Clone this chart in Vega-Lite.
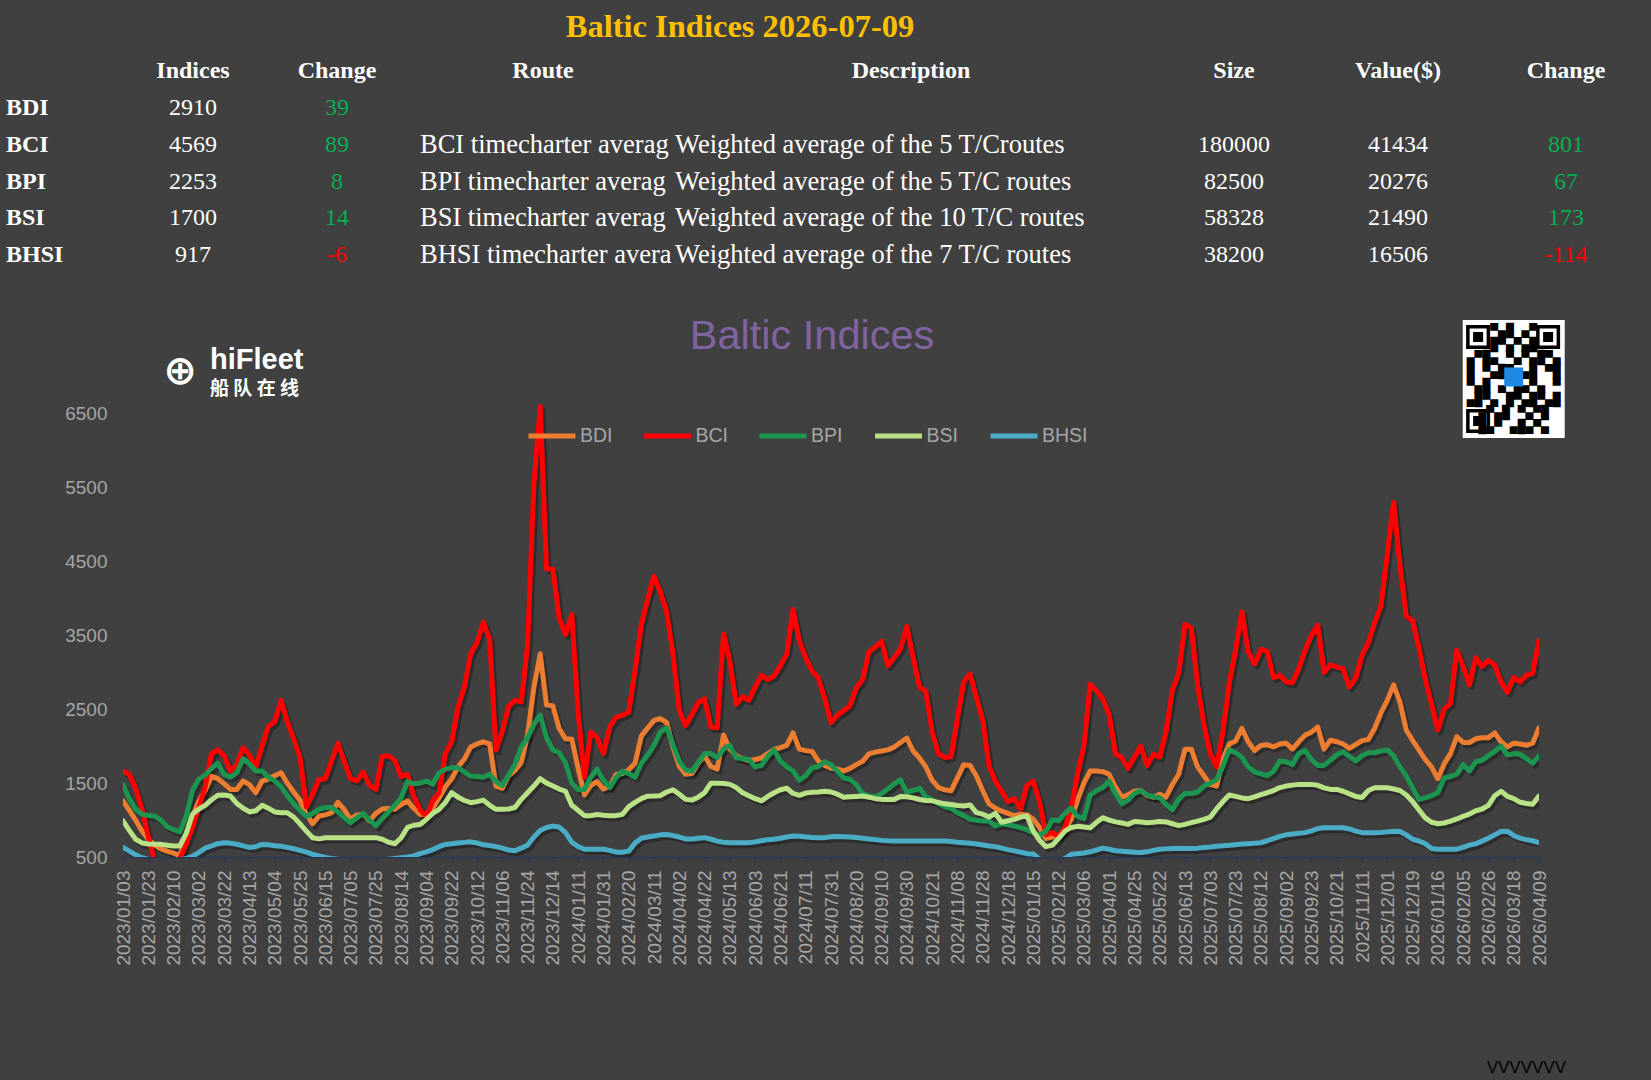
{
  "$schema": "https://vega.github.io/schema/vega-lite/v6.json",
  "description": "Baltic Indices table and line chart",
  "background": "#404040",
  "padding": {"top": 11, "left": 0, "right": 0, "bottom": 10},
  "bounds": "full",
  "spacing": 42,
  "config": {
    "view": {"stroke": null},
    "font": "Liberation Sans",
    "text": {"font": "Liberation Serif", "fontSize": 24, "color": "#ffffff", "baseline": "middle"}
  },
  "datasets": {
    "idx": [
      {"index": "BDI", "indices": 2910, "change": 39},
      {"index": "BCI", "indices": 4569, "change": 89},
      {"index": "BPI", "indices": 2253, "change": 8},
      {"index": "BSI", "indices": 1700, "change": 14},
      {"index": "BHSI", "indices": 917, "change": -6}
    ],
    "routes": [
      {"index": "BCI", "route": "BCI timecharter average", "description": "Weighted average of the 5 T/Croutes", "size": 180000, "value": 41434, "change": 801},
      {"index": "BPI", "route": "BPI timecharter average", "description": "Weighted average of the 5 T/C routes", "size": 82500, "value": 20276, "change": 67},
      {"index": "BSI", "route": "BSI timecharter average", "description": "Weighted average of the 10 T/C routes", "size": 58328, "value": 21490, "change": 173},
      {"index": "BHSI", "route": "BHSI timecharter average", "description": "Weighted average of the 7 T/C routes", "size": 38200, "value": 16506, "change": -114}
    ],
    "indices": [
      {"d":"2023/01/03","BDI":1260,"BCI":1660,"BPI":1480,"BSI":990,"BHSI":630},
      {"d":"2023/01/08","BDI":1130,"BCI":1620,"BPI":1290,"BSI":860,"BHSI":580},
      {"d":"2023/01/13","BDI":1000,"BCI":1430,"BPI":1150,"BSI":740,"BHSI":530},
      {"d":"2023/01/18","BDI":852,"BCI":1150,"BPI":1077,"BSI":690,"BHSI":490},
      {"d":"2023/01/23","BDI":740,"BCI":780,"BPI":1063,"BSI":675,"BHSI":470},
      {"d":"2023/01/27","BDI":660,"BCI":450,"BPI":1055,"BSI":671,"BHSI":450},
      {"d":"2023/02/01","BDI":610,"BCI":380,"BPI":1000,"BSI":671,"BHSI":440},
      {"d":"2023/02/05","BDI":580,"BCI":350,"BPI":910,"BSI":660,"BHSI":440},
      {"d":"2023/02/10","BDI":553,"BCI":380,"BPI":870,"BSI":649,"BHSI":445},
      {"d":"2023/02/15","BDI":515,"BCI":480,"BPI":840,"BSI":650,"BHSI":460},
      {"d":"2023/02/20","BDI":780,"BCI":670,"BPI":1050,"BSI":820,"BHSI":480},
      {"d":"2023/02/25","BDI":1050,"BCI":900,"BPI":1400,"BSI":1080,"BHSI":510},
      {"d":"2023/03/02","BDI":1258,"BCI":1167,"BPI":1555,"BSI":1150,"BHSI":560},
      {"d":"2023/03/07","BDI":1400,"BCI":1450,"BPI":1610,"BSI":1200,"BHSI":620},
      {"d":"2023/03/12","BDI":1590,"BCI":1900,"BPI":1700,"BSI":1275,"BHSI":650},
      {"d":"2023/03/17","BDI":1560,"BCI":1950,"BPI":1770,"BSI":1335,"BHSI":680},
      {"d":"2023/03/22","BDI":1490,"BCI":1870,"BPI":1615,"BSI":1340,"BHSI":694},
      {"d":"2023/03/27","BDI":1415,"BCI":1664,"BPI":1580,"BSI":1325,"BHSI":685},
      {"d":"2023/04/02","BDI":1415,"BCI":1750,"BPI":1640,"BSI":1225,"BHSI":672},
      {"d":"2023/04/07","BDI":1530,"BCI":1980,"BPI":1830,"BSI":1160,"BHSI":650},
      {"d":"2023/04/13","BDI":1480,"BCI":1880,"BPI":1760,"BSI":1110,"BHSI":630},
      {"d":"2023/04/18","BDI":1370,"BCI":1720,"BPI":1664,"BSI":1125,"BHSI":640},
      {"d":"2023/04/23","BDI":1528,"BCI":2000,"BPI":1664,"BSI":1200,"BHSI":670},
      {"d":"2023/04/28","BDI":1555,"BCI":2270,"BPI":1580,"BSI":1160,"BHSI":665},
      {"d":"2023/05/04","BDI":1600,"BCI":2330,"BPI":1530,"BSI":1110,"BHSI":652},
      {"d":"2023/05/09","BDI":1640,"BCI":2620,"BPI":1450,"BSI":1100,"BHSI":645},
      {"d":"2023/05/14","BDI":1500,"BCI":2330,"BPI":1330,"BSI":1100,"BHSI":630},
      {"d":"2023/05/19","BDI":1380,"BCI":2100,"BPI":1220,"BSI":1040,"BHSI":612},
      {"d":"2023/05/25","BDI":1270,"BCI":1850,"BPI":1130,"BSI":950,"BHSI":590},
      {"d":"2023/05/30","BDI":1080,"BCI":1180,"BPI":1050,"BSI":850,"BHSI":565},
      {"d":"2023/06/04","BDI":950,"BCI":1350,"BPI":1090,"BSI":760,"BHSI":535},
      {"d":"2023/06/09","BDI":1055,"BCI":1550,"BPI":1145,"BSI":745,"BHSI":515},
      {"d":"2023/06/15","BDI":1070,"BCI":1560,"BPI":1170,"BSI":760,"BHSI":495},
      {"d":"2023/06/20","BDI":1100,"BCI":1800,"BPI":1170,"BSI":762,"BHSI":480},
      {"d":"2023/06/25","BDI":1240,"BCI":2040,"BPI":1110,"BSI":762,"BHSI":470},
      {"d":"2023/06/30","BDI":1140,"BCI":1790,"BPI":1030,"BSI":762,"BHSI":460},
      {"d":"2023/07/05","BDI":1010,"BCI":1560,"BPI":965,"BSI":762,"BHSI":455},
      {"d":"2023/07/10","BDI":1070,"BCI":1530,"BPI":1030,"BSI":762,"BHSI":450},
      {"d":"2023/07/15","BDI":1080,"BCI":1650,"BPI":1090,"BSI":762,"BHSI":450},
      {"d":"2023/07/20","BDI":990,"BCI":1470,"BPI":1000,"BSI":762,"BHSI":450},
      {"d":"2023/07/25","BDI":1090,"BCI":1415,"BPI":920,"BSI":762,"BHSI":455},
      {"d":"2023/07/30","BDI":1150,"BCI":1860,"BPI":1020,"BSI":740,"BHSI":460},
      {"d":"2023/08/04","BDI":1158,"BCI":1870,"BPI":1110,"BSI":700,"BHSI":470},
      {"d":"2023/08/09","BDI":1147,"BCI":1805,"BPI":1200,"BSI":680,"BHSI":480},
      {"d":"2023/08/14","BDI":1210,"BCI":1590,"BPI":1300,"BSI":760,"BHSI":490},
      {"d":"2023/08/19","BDI":1258,"BCI":1620,"BPI":1520,"BSI":900,"BHSI":500},
      {"d":"2023/08/24","BDI":1160,"BCI":1320,"BPI":1490,"BSI":930,"BHSI":515},
      {"d":"2023/08/29","BDI":1077,"BCI":1140,"BPI":1500,"BSI":940,"BHSI":545},
      {"d":"2023/09/04","BDI":1077,"BCI":1040,"BPI":1528,"BSI":1010,"BHSI":570},
      {"d":"2023/09/08","BDI":1160,"BCI":1260,"BPI":1485,"BSI":1090,"BHSI":600},
      {"d":"2023/09/13","BDI":1300,"BCI":1370,"BPI":1640,"BSI":1145,"BHSI":640},
      {"d":"2023/09/17","BDI":1450,"BCI":1900,"BPI":1690,"BSI":1240,"BHSI":670},
      {"d":"2023/09/22","BDI":1560,"BCI":2060,"BPI":1709,"BSI":1370,"BHSI":680},
      {"d":"2023/09/27","BDI":1720,"BCI":2530,"BPI":1709,"BSI":1310,"BHSI":690},
      {"d":"2023/10/02","BDI":1826,"BCI":2800,"BPI":1650,"BSI":1265,"BHSI":698},
      {"d":"2023/10/07","BDI":1990,"BCI":3250,"BPI":1596,"BSI":1235,"BHSI":705},
      {"d":"2023/10/12","BDI":2030,"BCI":3400,"BPI":1590,"BSI":1250,"BHSI":690},
      {"d":"2023/10/18","BDI":2060,"BCI":3680,"BPI":1580,"BSI":1270,"BHSI":665},
      {"d":"2023/10/24","BDI":2030,"BCI":3450,"BPI":1620,"BSI":1200,"BHSI":655},
      {"d":"2023/10/30","BDI":1460,"BCI":1950,"BPI":1520,"BSI":1145,"BHSI":640},
      {"d":"2023/11/06","BDI":1430,"BCI":2200,"BPI":1465,"BSI":1145,"BHSI":620},
      {"d":"2023/11/10","BDI":1600,"BCI":2540,"BPI":1610,"BSI":1150,"BHSI":595},
      {"d":"2023/11/15","BDI":1670,"BCI":2620,"BPI":1750,"BSI":1170,"BHSI":585},
      {"d":"2023/11/19","BDI":1780,"BCI":2600,"BPI":1990,"BSI":1280,"BHSI":620},
      {"d":"2023/11/24","BDI":2150,"BCI":3360,"BPI":2110,"BSI":1370,"BHSI":660},
      {"d":"2023/11/29","BDI":2800,"BCI":5550,"BPI":2300,"BSI":1460,"BHSI":770},
      {"d":"2023/12/04","BDI":3250,"BCI":6600,"BPI":2420,"BSI":1560,"BHSI":860},
      {"d":"2023/12/09","BDI":2560,"BCI":4400,"BPI":2120,"BSI":1500,"BHSI":900},
      {"d":"2023/12/14","BDI":2545,"BCI":4400,"BPI":1950,"BSI":1460,"BHSI":918},
      {"d":"2023/12/21","BDI":2240,"BCI":3740,"BPI":1911,"BSI":1420,"BHSI":905},
      {"d":"2023/12/28","BDI":2100,"BCI":3510,"BPI":1780,"BSI":1390,"BHSI":830},
      {"d":"2024/01/04","BDI":2093,"BCI":3783,"BPI":1500,"BSI":1200,"BHSI":700},
      {"d":"2024/01/11","BDI":1700,"BCI":2450,"BPI":1410,"BSI":1130,"BHSI":640},
      {"d":"2024/01/16","BDI":1340,"BCI":1580,"BPI":1415,"BSI":1060,"BHSI":604},
      {"d":"2024/01/21","BDI":1470,"BCI":2190,"BPI":1580,"BSI":1060,"BHSI":604},
      {"d":"2024/01/26","BDI":1520,"BCI":2115,"BPI":1690,"BSI":1075,"BHSI":604},
      {"d":"2024/01/31","BDI":1420,"BCI":1900,"BPI":1540,"BSI":1065,"BHSI":604},
      {"d":"2024/02/05","BDI":1460,"BCI":2260,"BPI":1440,"BSI":1058,"BHSI":590},
      {"d":"2024/02/10","BDI":1618,"BCI":2390,"BPI":1574,"BSI":1060,"BHSI":565},
      {"d":"2024/02/15","BDI":1630,"BCI":2420,"BPI":1660,"BSI":1077,"BHSI":565},
      {"d":"2024/02/20","BDI":1680,"BCI":2460,"BPI":1630,"BSI":1180,"BHSI":580},
      {"d":"2024/02/25","BDI":1770,"BCI":3030,"BPI":1580,"BSI":1240,"BHSI":690},
      {"d":"2024/03/01","BDI":2140,"BCI":3650,"BPI":1770,"BSI":1290,"BHSI":755},
      {"d":"2024/03/06","BDI":2245,"BCI":3990,"BPI":1880,"BSI":1323,"BHSI":770},
      {"d":"2024/03/11","BDI":2350,"BCI":4300,"BPI":2010,"BSI":1325,"BHSI":785},
      {"d":"2024/03/16","BDI":2375,"BCI":4090,"BPI":2190,"BSI":1330,"BHSI":800},
      {"d":"2024/03/22","BDI":2320,"BCI":3820,"BPI":2250,"BSI":1380,"BHSI":805},
      {"d":"2024/03/27","BDI":1990,"BCI":3250,"BPI":2024,"BSI":1410,"BHSI":790},
      {"d":"2024/04/02","BDI":1730,"BCI":2480,"BPI":1800,"BSI":1350,"BHSI":770},
      {"d":"2024/04/07","BDI":1620,"BCI":2280,"BPI":1680,"BSI":1280,"BHSI":745},
      {"d":"2024/04/12","BDI":1630,"BCI":2430,"BPI":1660,"BSI":1270,"BHSI":745},
      {"d":"2024/04/17","BDI":1770,"BCI":2590,"BPI":1780,"BSI":1310,"BHSI":755},
      {"d":"2024/04/22","BDI":1870,"BCI":2640,"BPI":1900,"BSI":1370,"BHSI":762},
      {"d":"2024/04/27","BDI":1725,"BCI":2260,"BPI":1900,"BSI":1500,"BHSI":740},
      {"d":"2024/05/02","BDI":1690,"BCI":2250,"BPI":1844,"BSI":1500,"BHSI":715},
      {"d":"2024/05/07","BDI":2150,"BCI":3520,"BPI":1960,"BSI":1495,"BHSI":700},
      {"d":"2024/05/13","BDI":1960,"BCI":3150,"BPI":2010,"BSI":1483,"BHSI":694},
      {"d":"2024/05/18","BDI":1870,"BCI":2565,"BPI":1844,"BSI":1440,"BHSI":694},
      {"d":"2024/05/23","BDI":1830,"BCI":2670,"BPI":1830,"BSI":1370,"BHSI":694},
      {"d":"2024/05/28","BDI":1805,"BCI":2620,"BPI":1821,"BSI":1330,"BHSI":694},
      {"d":"2024/06/03","BDI":1820,"BCI":2800,"BPI":1720,"BSI":1290,"BHSI":705},
      {"d":"2024/06/07","BDI":1840,"BCI":2960,"BPI":1740,"BSI":1260,"BHSI":720},
      {"d":"2024/06/12","BDI":1900,"BCI":2900,"BPI":1860,"BSI":1320,"BHSI":735},
      {"d":"2024/06/16","BDI":1955,"BCI":2950,"BPI":1950,"BSI":1370,"BHSI":740},
      {"d":"2024/06/21","BDI":1980,"BCI":3090,"BPI":1800,"BSI":1410,"BHSI":755},
      {"d":"2024/06/26","BDI":2010,"BCI":3250,"BPI":1720,"BSI":1430,"BHSI":770},
      {"d":"2024/07/01","BDI":2180,"BCI":3850,"BPI":1664,"BSI":1360,"BHSI":784},
      {"d":"2024/07/06","BDI":1960,"BCI":3420,"BPI":1540,"BSI":1335,"BHSI":780},
      {"d":"2024/07/11","BDI":1940,"BCI":3200,"BPI":1600,"BSI":1365,"BHSI":772},
      {"d":"2024/07/16","BDI":1930,"BCI":3020,"BPI":1709,"BSI":1375,"BHSI":765},
      {"d":"2024/07/21","BDI":1800,"BCI":2920,"BPI":1725,"BSI":1380,"BHSI":762},
      {"d":"2024/07/26","BDI":1740,"BCI":2650,"BPI":1790,"BSI":1390,"BHSI":762},
      {"d":"2024/07/31","BDI":1700,"BCI":2320,"BPI":1750,"BSI":1380,"BHSI":775},
      {"d":"2024/08/05","BDI":1690,"BCI":2420,"BPI":1660,"BSI":1350,"BHSI":778},
      {"d":"2024/08/10","BDI":1665,"BCI":2480,"BPI":1570,"BSI":1310,"BHSI":775},
      {"d":"2024/08/15","BDI":1700,"BCI":2550,"BPI":1550,"BSI":1315,"BHSI":770},
      {"d":"2024/08/20","BDI":1750,"BCI":2790,"BPI":1480,"BSI":1320,"BHSI":764},
      {"d":"2024/08/25","BDI":1795,"BCI":2900,"BPI":1360,"BSI":1325,"BHSI":755},
      {"d":"2024/08/30","BDI":1895,"BCI":3280,"BPI":1330,"BSI":1310,"BHSI":745},
      {"d":"2024/09/04","BDI":1920,"BCI":3340,"BPI":1310,"BSI":1290,"BHSI":735},
      {"d":"2024/09/10","BDI":1935,"BCI":3420,"BPI":1360,"BSI":1280,"BHSI":725},
      {"d":"2024/09/15","BDI":1950,"BCI":3090,"BPI":1420,"BSI":1280,"BHSI":720},
      {"d":"2024/09/20","BDI":1990,"BCI":3200,"BPI":1490,"BSI":1280,"BHSI":717},
      {"d":"2024/09/25","BDI":2050,"BCI":3320,"BPI":1545,"BSI":1320,"BHSI":717},
      {"d":"2024/09/30","BDI":2110,"BCI":3620,"BPI":1380,"BSI":1315,"BHSI":717},
      {"d":"2024/10/05","BDI":1935,"BCI":3200,"BPI":1400,"BSI":1300,"BHSI":717},
      {"d":"2024/10/10","BDI":1840,"BCI":2800,"BPI":1430,"BSI":1278,"BHSI":717},
      {"d":"2024/10/15","BDI":1720,"BCI":2740,"BPI":1320,"BSI":1265,"BHSI":717},
      {"d":"2024/10/21","BDI":1540,"BCI":2190,"BPI":1270,"BSI":1260,"BHSI":717},
      {"d":"2024/10/25","BDI":1440,"BCI":1900,"BPI":1220,"BSI":1240,"BHSI":717},
      {"d":"2024/10/30","BDI":1410,"BCI":1844,"BPI":1180,"BSI":1220,"BHSI":717},
      {"d":"2024/11/03","BDI":1395,"BCI":1860,"BPI":1160,"BSI":1210,"BHSI":710},
      {"d":"2024/11/08","BDI":1570,"BCI":2380,"BPI":1100,"BSI":1197,"BHSI":700},
      {"d":"2024/11/13","BDI":1750,"BCI":2870,"BPI":1060,"BSI":1190,"BHSI":692},
      {"d":"2024/11/18","BDI":1740,"BCI":2980,"BPI":1010,"BSI":1205,"BHSI":685},
      {"d":"2024/11/23","BDI":1600,"BCI":2660,"BPI":997,"BSI":1100,"BHSI":675},
      {"d":"2024/11/28","BDI":1400,"BCI":2360,"BPI":987,"BSI":1080,"BHSI":662},
      {"d":"2024/12/03","BDI":1220,"BCI":1730,"BPI":987,"BSI":1040,"BHSI":650},
      {"d":"2024/12/08","BDI":1160,"BCI":1528,"BPI":920,"BSI":1090,"BHSI":640},
      {"d":"2024/12/13","BDI":1120,"BCI":1390,"BPI":950,"BSI":970,"BHSI":620},
      {"d":"2024/12/18","BDI":1090,"BCI":1250,"BPI":935,"BSI":990,"BHSI":600},
      {"d":"2024/12/25","BDI":1058,"BCI":1290,"BPI":920,"BSI":1010,"BHSI":583},
      {"d":"2025/01/01","BDI":1080,"BCI":1150,"BPI":897,"BSI":1040,"BHSI":565},
      {"d":"2025/01/08","BDI":1070,"BCI":1470,"BPI":870,"BSI":1055,"BHSI":545},
      {"d":"2025/01/15","BDI":1010,"BCI":1528,"BPI":830,"BSI":852,"BHSI":540},
      {"d":"2025/01/22","BDI":900,"BCI":1250,"BPI":790,"BSI":725,"BHSI":470},
      {"d":"2025/01/29","BDI":750,"BCI":800,"BPI":850,"BSI":640,"BHSI":430},
      {"d":"2025/02/05","BDI":770,"BCI":830,"BPI":1000,"BSI":660,"BHSI":420},
      {"d":"2025/02/12","BDI":790,"BCI":775,"BPI":990,"BSI":750,"BHSI":440},
      {"d":"2025/02/17","BDI":870,"BCI":895,"BPI":1090,"BSI":850,"BHSI":480},
      {"d":"2025/02/23","BDI":1010,"BCI":1160,"BPI":1160,"BSI":900,"BHSI":536},
      {"d":"2025/02/28","BDI":1270,"BCI":1620,"BPI":1050,"BSI":915,"BHSI":545},
      {"d":"2025/03/06","BDI":1500,"BCI":2000,"BPI":1020,"BSI":905,"BHSI":555},
      {"d":"2025/03/12","BDI":1664,"BCI":2836,"BPI":1340,"BSI":895,"BHSI":570},
      {"d":"2025/03/19","BDI":1664,"BCI":2750,"BPI":1400,"BSI":970,"BHSI":595},
      {"d":"2025/03/25","BDI":1655,"BCI":2640,"BPI":1440,"BSI":1032,"BHSI":620},
      {"d":"2025/04/01","BDI":1620,"BCI":2430,"BPI":1528,"BSI":1000,"BHSI":605},
      {"d":"2025/04/07","BDI":1450,"BCI":1900,"BPI":1360,"BSI":975,"BHSI":585},
      {"d":"2025/04/13","BDI":1310,"BCI":1844,"BPI":1220,"BSI":960,"BHSI":578},
      {"d":"2025/04/19","BDI":1340,"BCI":1700,"BPI":1270,"BSI":942,"BHSI":570},
      {"d":"2025/04/25","BDI":1390,"BCI":1850,"BPI":1360,"BSI":980,"BHSI":563},
      {"d":"2025/05/01","BDI":1400,"BCI":2000,"BPI":1400,"BSI":975,"BHSI":560},
      {"d":"2025/05/08","BDI":1330,"BCI":1740,"BPI":1340,"BSI":965,"BHSI":570},
      {"d":"2025/05/15","BDI":1310,"BCI":1889,"BPI":1315,"BSI":970,"BHSI":590},
      {"d":"2025/05/22","BDI":1348,"BCI":1850,"BPI":1303,"BSI":980,"BHSI":604},
      {"d":"2025/05/27","BDI":1310,"BCI":2200,"BPI":1210,"BSI":975,"BHSI":610},
      {"d":"2025/06/02","BDI":1480,"BCI":2760,"BPI":1140,"BSI":950,"BHSI":615},
      {"d":"2025/06/07","BDI":1620,"BCI":2990,"BPI":1280,"BSI":925,"BHSI":620},
      {"d":"2025/06/13","BDI":1960,"BCI":3650,"BPI":1360,"BSI":942,"BHSI":615},
      {"d":"2025/06/18","BDI":1960,"BCI":3600,"BPI":1360,"BSI":965,"BHSI":615},
      {"d":"2025/06/23","BDI":1720,"BCI":2830,"BPI":1380,"BSI":985,"BHSI":620},
      {"d":"2025/06/28","BDI":1600,"BCI":2290,"BPI":1460,"BSI":1010,"BHSI":628},
      {"d":"2025/07/03","BDI":1480,"BCI":1900,"BPI":1500,"BSI":1040,"BHSI":635},
      {"d":"2025/07/08","BDI":1460,"BCI":1720,"BPI":1545,"BSI":1150,"BHSI":645},
      {"d":"2025/07/13","BDI":1830,"BCI":2200,"BPI":1730,"BSI":1250,"BHSI":652},
      {"d":"2025/07/18","BDI":2030,"BCI":2850,"BPI":1950,"BSI":1340,"BHSI":658},
      {"d":"2025/07/23","BDI":2070,"BCI":3300,"BPI":1911,"BSI":1320,"BHSI":667},
      {"d":"2025/07/28","BDI":2240,"BCI":3820,"BPI":1850,"BSI":1300,"BHSI":675},
      {"d":"2025/08/02","BDI":2060,"BCI":3280,"BPI":1720,"BSI":1290,"BHSI":680},
      {"d":"2025/08/07","BDI":1940,"BCI":3110,"BPI":1650,"BSI":1315,"BHSI":686},
      {"d":"2025/08/12","BDI":2010,"BCI":3310,"BPI":1625,"BSI":1345,"BHSI":693},
      {"d":"2025/08/17","BDI":2020,"BCI":3287,"BPI":1600,"BSI":1370,"BHSI":720},
      {"d":"2025/08/22","BDI":1990,"BCI":2930,"BPI":1660,"BSI":1400,"BHSI":750},
      {"d":"2025/08/27","BDI":2030,"BCI":2960,"BPI":1800,"BSI":1440,"BHSI":780},
      {"d":"2025/09/02","BDI":2040,"BCI":2870,"BPI":1790,"BSI":1460,"BHSI":800},
      {"d":"2025/09/07","BDI":1960,"BCI":2860,"BPI":1750,"BSI":1473,"BHSI":812},
      {"d":"2025/09/12","BDI":2060,"BCI":3050,"BPI":1900,"BSI":1483,"BHSI":820},
      {"d":"2025/09/17","BDI":2150,"BCI":3300,"BPI":1940,"BSI":1483,"BHSI":830},
      {"d":"2025/09/23","BDI":2190,"BCI":3500,"BPI":1820,"BSI":1483,"BHSI":855},
      {"d":"2025/09/30","BDI":2260,"BCI":3640,"BPI":1740,"BSI":1470,"BHSI":885},
      {"d":"2025/10/07","BDI":1960,"BCI":3000,"BPI":1740,"BSI":1435,"BHSI":895},
      {"d":"2025/10/14","BDI":2080,"BCI":3100,"BPI":1810,"BSI":1415,"BHSI":897},
      {"d":"2025/10/21","BDI":2060,"BCI":3070,"BPI":1880,"BSI":1415,"BHSI":897},
      {"d":"2025/10/26","BDI":2030,"BCI":3050,"BPI":1925,"BSI":1390,"BHSI":897},
      {"d":"2025/10/31","BDI":1970,"BCI":2800,"BPI":1860,"BSI":1355,"BHSI":880},
      {"d":"2025/11/05","BDI":2020,"BCI":2920,"BPI":1800,"BSI":1320,"BHSI":850},
      {"d":"2025/11/11","BDI":2075,"BCI":3230,"BPI":1870,"BSI":1305,"BHSI":829},
      {"d":"2025/11/16","BDI":2090,"BCI":3400,"BPI":1911,"BSI":1400,"BHSI":829},
      {"d":"2025/11/21","BDI":2240,"BCI":3670,"BPI":1911,"BSI":1438,"BHSI":829},
      {"d":"2025/11/26","BDI":2450,"BCI":3900,"BPI":1935,"BSI":1438,"BHSI":832},
      {"d":"2025/12/01","BDI":2620,"BCI":4600,"BPI":1950,"BSI":1438,"BHSI":840},
      {"d":"2025/12/05","BDI":2830,"BCI":5300,"BPI":1870,"BSI":1420,"BHSI":848},
      {"d":"2025/12/10","BDI":2600,"BCI":4450,"BPI":1720,"BSI":1400,"BHSI":845},
      {"d":"2025/12/14","BDI":2220,"BCI":3760,"BPI":1600,"BSI":1340,"BHSI":800},
      {"d":"2025/12/19","BDI":2080,"BCI":3700,"BPI":1440,"BSI":1250,"BHSI":740},
      {"d":"2025/12/26","BDI":1950,"BCI":3340,"BPI":1280,"BSI":1140,"BHSI":717},
      {"d":"2026/01/02","BDI":1820,"BCI":2910,"BPI":1300,"BSI":1030,"BHSI":680},
      {"d":"2026/01/09","BDI":1720,"BCI":2570,"BPI":1330,"BSI":970,"BHSI":615},
      {"d":"2026/01/16","BDI":1560,"BCI":2220,"BPI":1370,"BSI":950,"BHSI":604},
      {"d":"2026/01/21","BDI":1760,"BCI":2500,"BPI":1570,"BSI":960,"BHSI":604},
      {"d":"2026/01/26","BDI":1900,"BCI":2580,"BPI":1590,"BSI":985,"BHSI":604},
      {"d":"2026/01/31","BDI":2130,"BCI":3300,"BPI":1620,"BSI":1015,"BHSI":606},
      {"d":"2026/02/05","BDI":2050,"BCI":3080,"BPI":1750,"BSI":1050,"BHSI":630},
      {"d":"2026/02/10","BDI":2050,"BCI":2830,"BPI":1664,"BSI":1080,"BHSI":660},
      {"d":"2026/02/15","BDI":2100,"BCI":3197,"BPI":1790,"BSI":1125,"BHSI":680},
      {"d":"2026/02/20","BDI":2115,"BCI":3080,"BPI":1810,"BSI":1150,"BHSI":715},
      {"d":"2026/02/26","BDI":2115,"BCI":3160,"BPI":1870,"BSI":1200,"BHSI":755},
      {"d":"2026/03/03","BDI":2180,"BCI":3100,"BPI":1930,"BSI":1330,"BHSI":800},
      {"d":"2026/03/08","BDI":2060,"BCI":2870,"BPI":2000,"BSI":1390,"BHSI":845},
      {"d":"2026/03/13","BDI":1990,"BCI":2730,"BPI":1880,"BSI":1320,"BHSI":850},
      {"d":"2026/03/18","BDI":2040,"BCI":2930,"BPI":1900,"BSI":1290,"BHSI":790},
      {"d":"2026/03/23","BDI":2030,"BCI":2870,"BPI":1890,"BSI":1240,"BHSI":755},
      {"d":"2026/03/29","BDI":2012,"BCI":2960,"BPI":1830,"BSI":1225,"BHSI":735},
      {"d":"2026/04/03","BDI":2040,"BCI":2990,"BPI":1770,"BSI":1215,"BHSI":720},
      {"d":"2026/04/09","BDI":2250,"BCI":3430,"BPI":1866,"BSI":1325,"BHSI":694}
    ]
  },
  "vconcat": [
    {
      "bounds": "flush",
      "spacing": 0,
      "hconcat": [
        {
          "width": 120, "height": 257.6,
          "data": {"name": "idx"},
          "mark": {"type": "text", "align": "left", "dx": -54, "fontWeight": "bold"},
          "encoding": {
            "y": {"field": "index", "type": "nominal", "scale": {"type": "point", "domain": ["title", "hdr", "BDI", "BCI", "BPI", "BSI", "BHSI"], "padding": 0.5}, "axis": null},
            "text": {"field": "index"}
          }
        },
        {
          "width": 146, "height": 257.6,
          "layer": [
            {
              "data": {"values": [{"label": "Indices"}]},
              "mark": {"type": "text", "fontWeight": "bold"},
              "encoding": {
                "y": {"datum": "hdr", "type": "nominal", "scale": {"type": "point", "domain": ["title", "hdr", "BDI", "BCI", "BPI", "BSI", "BHSI"], "padding": 0.5}, "axis": null},
                "text": {"field": "label"}
              }
            },
            {
              "data": {"name": "idx"},
              "mark": {"type": "text"},
              "encoding": {
                "y": {"field": "index", "type": "nominal"},
                "text": {"field": "indices", "type": "nominal"}
              }
            }
          ]
        },
        {
          "width": 142, "height": 257.6,
          "layer": [
            {
              "data": {"values": [{"label": "Change"}]},
              "mark": {"type": "text", "fontWeight": "bold"},
              "encoding": {
                "y": {"datum": "hdr", "type": "nominal", "scale": {"type": "point", "domain": ["title", "hdr", "BDI", "BCI", "BPI", "BSI", "BHSI"], "padding": 0.5}, "axis": null},
                "text": {"field": "label"}
              }
            },
            {
              "data": {"name": "idx"},
              "mark": {"type": "text"},
              "encoding": {
                "y": {"field": "index", "type": "nominal"},
                "text": {"field": "change", "type": "nominal"},
                "color": {"condition": {"test": "datum.change < 0", "value": "#FF0000"}, "value": "#00B050"}
              }
            }
          ]
        },
        {
          "width": 267, "height": 257.6,
          "layer": [
            {
              "data": {"values": [{"label": "Route"}]},
              "mark": {"type": "text", "fontWeight": "bold", "dx": 1.5},
              "encoding": {
                "y": {"datum": "hdr", "type": "nominal", "scale": {"type": "point", "domain": ["title", "hdr", "BDI", "BCI", "BPI", "BSI", "BHSI"], "padding": 0.5}, "axis": null},
                "text": {"field": "label"}
              }
            },
            {
              "data": {"name": "routes"},
              "mark": {"type": "text", "align": "left", "dx": -121.5, "fontSize": 26.5, "limit": 253, "ellipsis": "\u200b"},
              "encoding": {
                "y": {"field": "index", "type": "nominal"},
                "text": {"field": "route"}
              }
            }
          ]
        },
        {
          "width": 472, "height": 257.6,
          "layer": [
            {
              "data": {"values": [{"label": "Baltic Indices 2026-07-09"}]},
              "mark": {"type": "text", "fontWeight": "bold", "fontSize": 32.5, "color": "#FFC000", "dx": -171, "dy": -7},
              "encoding": {
                "y": {"datum": "title", "type": "nominal", "scale": {"type": "point", "domain": ["title", "hdr", "BDI", "BCI", "BPI", "BSI", "BHSI"], "padding": 0.5}, "axis": null},
                "text": {"field": "label"}
              }
            },
            {
              "data": {"values": [{"label": "Description"}]},
              "mark": {"type": "text", "fontWeight": "bold"},
              "encoding": {
                "y": {"datum": "hdr", "type": "nominal"},
                "text": {"field": "label"}
              }
            },
            {
              "data": {"name": "routes"},
              "mark": {"type": "text", "align": "left", "dx": -236, "fontSize": 26.5},
              "encoding": {
                "y": {"field": "index", "type": "nominal"},
                "text": {"field": "description"}
              }
            }
          ]
        },
        {
          "width": 174, "height": 257.6,
          "layer": [
            {
              "data": {"values": [{"label": "Size"}]},
              "mark": {"type": "text", "fontWeight": "bold"},
              "encoding": {
                "y": {"datum": "hdr", "type": "nominal", "scale": {"type": "point", "domain": ["title", "hdr", "BDI", "BCI", "BPI", "BSI", "BHSI"], "padding": 0.5}, "axis": null},
                "text": {"field": "label"}
              }
            },
            {
              "data": {"name": "routes"},
              "mark": {"type": "text"},
              "encoding": {
                "y": {"field": "index", "type": "nominal"},
                "text": {"field": "size", "type": "nominal"}
              }
            }
          ]
        },
        {
          "width": 154, "height": 257.6,
          "layer": [
            {
              "data": {"values": [{"label": "Value($)"}]},
              "mark": {"type": "text", "fontWeight": "bold"},
              "encoding": {
                "y": {"datum": "hdr", "type": "nominal", "scale": {"type": "point", "domain": ["title", "hdr", "BDI", "BCI", "BPI", "BSI", "BHSI"], "padding": 0.5}, "axis": null},
                "text": {"field": "label"}
              }
            },
            {
              "data": {"name": "routes"},
              "mark": {"type": "text"},
              "encoding": {
                "y": {"field": "index", "type": "nominal"},
                "text": {"field": "value", "type": "nominal"}
              }
            }
          ]
        },
        {
          "width": 176, "height": 257.6,
          "layer": [
            {
              "data": {"values": [{"label": "Change"}]},
              "mark": {"type": "text", "fontWeight": "bold", "dx": 3},
              "encoding": {
                "y": {"datum": "hdr", "type": "nominal", "scale": {"type": "point", "domain": ["title", "hdr", "BDI", "BCI", "BPI", "BSI", "BHSI"], "padding": 0.5}, "axis": null},
                "text": {"field": "label"}
              }
            },
            {
              "data": {"name": "routes"},
              "mark": {"type": "text", "dx": 3},
              "encoding": {
                "y": {"field": "index", "type": "nominal"},
                "text": {"field": "change", "type": "nominal"},
                "color": {"condition": {"test": "datum.change < 0", "value": "#FF0000"}, "value": "#00B050"}
              }
            }
          ]
        }
      ]
    },
    {
      "bounds": "flush",
      "spacing": 122,
      "hconcat": [
        {
          "width": 1, "height": 458,
          "data": {"values": []},
          "mark": "point"
        },
        {
          "width": 1416, "height": 458,
          "layer": [
            {
              "data": {"name": "indices"},
              "transform": [{"fold": ["BDI", "BCI", "BPI", "BSI", "BHSI"], "as": ["series", "value"]}],
              "mark": {"type": "line", "strokeWidth": 5, "clip": true, "color": "#000000", "opacity": 0.3, "strokeJoin": "round"},
              "encoding": {
                "x": {"field": "d", "type": "ordinal", "scale": {"type": "point", "padding": 0}},
                "y": {"field": "value", "type": "quantitative", "scale": {"domain": [500, 6700], "nice": false, "zero": false}},
                "detail": {"field": "series"},
                "xOffset": {"value": 2.5},
                "yOffset": {"value": 3}
              }
            },
            {
              "data": {"name": "indices"},
              "transform": [{"fold": ["BDI", "BCI", "BPI", "BSI", "BHSI"], "as": ["series", "value"]}],
              "mark": {"type": "line", "strokeWidth": 5, "clip": true, "strokeJoin": "round", "strokeCap": "round"},
              "encoding": {
                "x": {
                  "field": "d", "type": "ordinal",
                  "scale": {"type": "point", "padding": 0},
                  "axis": {
                    "values": ["2023/01/03","2023/01/23","2023/02/10","2023/03/02","2023/03/22","2023/04/13","2023/05/04","2023/05/25","2023/06/15","2023/07/05","2023/07/25","2023/08/14","2023/09/04","2023/09/22","2023/10/12","2023/11/06","2023/11/24","2023/12/14","2024/01/11","2024/01/31","2024/02/20","2024/03/11","2024/04/02","2024/04/22","2024/05/13","2024/06/03","2024/06/21","2024/07/11","2024/07/31","2024/08/20","2024/09/10","2024/09/30","2024/10/21","2024/11/08","2024/11/28","2024/12/18","2025/01/15","2025/02/12","2025/03/06","2025/04/01","2025/04/25","2025/05/22","2025/06/13","2025/07/03","2025/07/23","2025/08/12","2025/09/02","2025/09/23","2025/10/21","2025/11/11","2025/12/01","2025/12/19","2026/01/16","2026/02/05","2026/02/26","2026/03/18","2026/04/09"],
                    "labelAngle": 270, "labelFont": "Liberation Sans", "labelFontSize": 19, "labelColor": "#A6A6A6",
                    "labelPadding": 8, "labelOverlap": false, "labelFlush": false, "labelBound": false,
                    "tickSize": 5, "tickColor": "#26375A", "tickWidth": 1.5,
                    "domainColor": "#26375A", "domainWidth": 1.5, "grid": false, "title": null
                  }
                },
                "y": {
                  "field": "value", "type": "quantitative",
                  "scale": {"domain": [500, 6700], "nice": false, "zero": false},
                  "axis": {
                    "values": [500, 1500, 2500, 3500, 4500, 5500, 6500], "format": "d",
                    "labelFont": "Liberation Sans", "labelFontSize": 19, "labelColor": "#A6A6A6", "labelPadding": 16,
                    "domain": false, "ticks": false, "grid": false, "title": null
                  }
                },
                "color": {
                  "field": "series", "type": "nominal",
                  "scale": {"domain": ["BDI", "BCI", "BPI", "BSI", "BHSI"], "range": ["#ED7D31", "#FF0000", "#1C9550", "#B9E286", "#4BACC6"]},
                  "legend": {
                    "orient": "none", "legendX": 526, "legendY": 394, "direction": "horizontal", "columns": 5, "title": null,
                    "symbolType": "stroke", "symbolSize": 2209, "symbolStrokeWidth": 5,
                    "labelFont": "Liberation Sans", "labelFontSize": 19.5, "labelColor": "#A6A6A6", "labelOffset": 2,
                    "columnPadding": 7.5, "gridAlign": "all"
                  }
                }
              }
            },
            {
              "data": {"values": [{"t": "Baltic Indices"}]},
              "mark": {"type": "text", "font": "Liberation Sans", "fontSize": 41.5, "color": "#8064A2", "align": "center", "baseline": "middle"},
              "encoding": {
                "x": {"datum": "2024/07/16", "type": "ordinal"},
                "y": {"datum": 7537, "type": "quantitative"},
                "text": {"field": "t"}
              }
            },
            {
              "data": {"values": [{"t": "⊕"}]},
              "mark": {"type": "text", "font": "DejaVu Sans", "fontSize": 40, "fontWeight": "bold", "color": "#ffffff", "align": "center", "baseline": "middle"},
              "encoding": {
                "x": {"datum": "2023/02/15", "type": "ordinal"},
                "y": {"datum": 7066, "type": "quantitative"},
                "text": {"field": "t"}
              }
            },
            {
              "data": {"values": [{"t": "hiFleet"}]},
              "mark": {"type": "text", "font": "Liberation Sans", "fontSize": 29, "fontWeight": "bold", "color": "#ffffff", "align": "left", "baseline": "middle", "dx": -1.5},
              "encoding": {
                "x": {"datum": "2023/03/12", "type": "ordinal"},
                "y": {"datum": 7222, "type": "quantitative"},
                "text": {"field": "t"}
              }
            },
            {
              "data": {"values": [{"t": "船 队 在 线"}]},
              "mark": {"type": "text", "font": "Noto Sans CJK SC", "fontSize": 19, "fontWeight": "bold", "color": "#ffffff", "align": "left", "baseline": "middle", "dx": -1.5},
              "encoding": {
                "x": {"datum": "2023/03/12", "type": "ordinal"},
                "y": {"datum": 6840, "type": "quantitative"},
                "text": {"field": "t"}
              }
            },
            {
              "data": {"values": [{"part": "qr"}]},
              "mark": {"type": "point", "shape": "M-51,-59h102v118h-102Z", "size": 4, "filled": true, "color": "#ffffff", "opacity": 1, "strokeWidth": 0},
              "encoding": {
                "x": {"datum": "2026/03/18", "type": "ordinal"},
                "y": {"datum": 6971, "type": "quantitative"}
              }
            },
            {
              "data": {"values": [{"t": ["\u00a0\u00a0\u00a0▀▄█\u00a0▄▀\u00a0\u00a0\u00a0", "\u00a0\u00a0\u00a0█▀▄▀▄█\u00a0\u00a0\u00a0", "▄▀█▄\u00a0▀▄▀▄█▀▄", "█\u00a0▀▄█▀\u00a0▄█\u00a0▀█", "▀▄█\u00a0▄▀█▄▀▄\u00a0▀", "▄█▀▄\u00a0█▀▄█▀▄█", "\u00a0\u00a0\u00a0▄▀▄█\u00a0▀▄▀█", "\u00a0\u00a0\u00a0█▄▀\u00a0▄█▄▀▄"]}]},
              "mark": {"type": "text", "font": "DejaVu Sans Mono", "fontSize": 13, "lineHeight": 13.75, "color": "#000000", "align": "center", "baseline": "middle", "dy": -48},
              "encoding": {
                "x": {"datum": "2026/03/18", "type": "ordinal"},
                "y": {"datum": 6971, "type": "quantitative"},
                "text": {"field": "t"}
              }
            },
            {
              "data": {"values": [{"part": "finders"}]},
              "mark": {"type": "point", "shape": "M-47.6,-54h24v24h-24Z M-44.1,-50.5v17h17v-17Z M-40.6,-47h10v10h-10Z M22.4,-54h24v24h-24Z M25.9,-50.5v17h17v-17Z M29.4,-47h10v10h-10Z M-47.6,30h24v24h-24Z M-44.1,33.5v17h17v-17Z M-40.6,37h10v10h-10Z", "size": 4, "filled": true, "color": "#000000", "opacity": 1, "strokeWidth": 0},
              "encoding": {
                "x": {"datum": "2026/03/18", "type": "ordinal"},
                "y": {"datum": 6971, "type": "quantitative"}
              }
            },
            {
              "data": {"values": [{"part": "qr logo"}]},
              "mark": {"type": "point", "shape": "M-9.5,-11.5h19v19h-19Z", "size": 4, "filled": true, "color": "#1E88E5", "opacity": 1, "strokeWidth": 0},
              "encoding": {
                "x": {"datum": "2026/03/18", "type": "ordinal"},
                "y": {"datum": 6971, "type": "quantitative"}
              }
            },
            {
              "data": {"values": [{"t": "VVVVVVV"}]},
              "mark": {"type": "text", "font": "Liberation Sans", "fontSize": 17, "color": "#000000", "align": "center", "baseline": "middle"},
              "encoding": {
                "x": {"datum": "2026/03/29", "type": "ordinal"},
                "y": {"datum": -2356, "type": "quantitative"},
                "text": {"field": "t"}
              }
            }
          ]
        }
      ]
    }
  ]
}
